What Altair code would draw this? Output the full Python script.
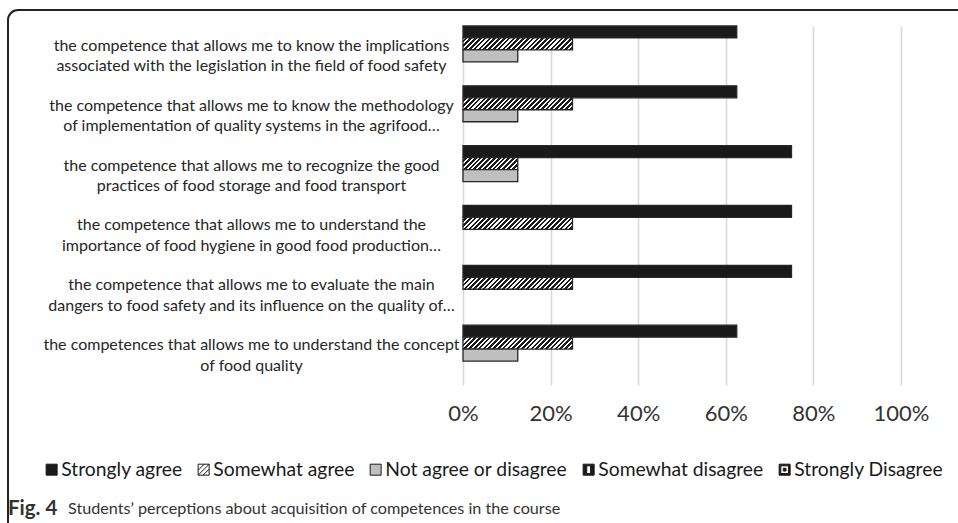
import altair as alt
import pandas as pd

# ---- data -------------------------------------------------------------
categories = [
    "the competence that allows me to know the implications|associated with the legislation in the field of food safety",
    "the competence that allows me to know the methodology|of implementation of quality systems in the agrifood\u2026",
    "the competence that allows me to recognize the good|practices of food storage and food transport",
    "the competence that allows me to understand the|importance of food hygiene in good food production\u2026",
    "the competence that allows me to evaluate the main|dangers to food safety and its influence on the quality of\u2026",
    "the competences that allows me to understand the concept|of food quality",
]
series = [
    "Strongly agree",
    "Somewhat agree",
    "Not agree or disagree",
    "Somewhat disagree",
    "Strongly Disagree",
]
strongly_agree = [62.5, 62.5, 75, 75, 75, 62.5]
somewhat_agree = [25, 25, 12.5, 25, 25, 25]
not_agree = [12.5, 12.5, 12.5, 0, 0, 12.5]
somewhat_disagree = [0, 0, 0, 0, 0, 0]
strongly_disagree = [0, 0, 0, 0, 0, 0]

x_ticks = [0, 20, 40, 60, 80, 100]
caption_bold = "Fig. 4"
caption_text = "Students\u2019 perceptions about acquisition of competences in the course"

# ---- layout / style ----------------------------------------------------
PLOT_W, PLOT_H = 438, 359
FONT = "Lato"
BLACK = "#1a1a1a"
GREY = "#bfbfbf"
EDGE = "#262626"

rows = []
for s, vals in zip(series, [strongly_agree, somewhat_agree, not_agree,
                            somewhat_disagree, strongly_disagree]):
    for c, v in zip(categories, vals):
        rows.append({"category": c, "series": s, "value": v})
df = pd.DataFrame(rows)

bar_h = PLOT_H / len(categories) / len(series)


def hatch(value, period=4.8, ink=0.55):
    """Diagonal '/' stripes as a hard-stop gradient sized to the bar."""
    w = value / 100 * PLOT_W
    r = w / bar_h
    c = (r + 1) / (r * r + 1)
    n = (w + bar_h) / period
    stops = []
    k = 0
    while k < n:
        a, b, e = k / n, (k + 1 - ink) / n, (k + 1) / n
        stops += [
            {"offset": min(a, 1), "color": "#ffffff"},
            {"offset": min(b, 1), "color": "#ffffff"},
            {"offset": min(b, 1), "color": BLACK},
            {"offset": min(e, 1), "color": BLACK},
        ]
        k += 1
    return {"gradient": "linear", "x1": 0, "y1": 0, "x2": c * r, "y2": c,
            "stops": stops}


x_enc = alt.X(
    "value:Q",
    scale=alt.Scale(domain=[0, 100], nice=False),
    axis=alt.Axis(
        values=x_ticks, labelExpr="datum.value + '%'", title=None,
        domain=False, ticks=False, grid=True, gridColor="#d9d9d9",
        gridWidth=1.6, labelFont=FONT, labelFontSize=22, labelColor="#333333",
        labelPadding=18, labelFlush=False, labelOverlap=False,
    ),
)
y_enc = alt.Y(
    "category:N",
    sort=categories,
    scale=alt.Scale(domain=categories, paddingInner=0, paddingOuter=0),
    axis=alt.Axis(
        title=None, domain=False, ticks=False, grid=False,
        labelExpr="split(datum.label, '|')", labelAlign="center",
        labelBaseline="middle", labelPadding=212, labelLimit=0,
        labelOffset=-10,
        labelFont=FONT, labelFontSize=16, labelLineHeight=20.5,
        labelColor="#262626",
    ),
)
yoff = alt.YOffset(
    "series:N",
    scale=alt.Scale(domain=series, paddingInner=0, paddingOuter=0),
)

base = alt.Chart(df).encode(x=x_enc, y=y_enc, yOffset=yoff)


def bars(test, fill):
    return base.transform_filter(test).mark_bar(
        fill=fill, stroke=EDGE, strokeWidth=1.3, opacity=1
    )


layers = [
    bars("datum.series == 'Strongly agree' && datum.value > 0", BLACK),
    bars("datum.series == 'Somewhat agree' && datum.value == 25", hatch(25)),
    bars("datum.series == 'Somewhat agree' && datum.value == 12.5", hatch(12.5)),
    bars("datum.series == 'Not agree or disagree' && datum.value > 0", GREY),
]

# legend swatches (custom symbol paths in the unit square)
sq = "M-1,-1H1V1H-1Z"
legend_shapes = [
    sq,
    sq + "M-1,0.1L0.1,-1M-1,1L1,-1M-0.1,1L1,-0.1",
    sq,
    sq + "M-0.35,-0.7V0.7H0.35V-0.7Z",
    sq + "M-0.7,-0.7V0.7H0.7V-0.7ZM-0.25,-0.25H0.25V0.25H-0.25Z",
]
legend_fills = [BLACK, "#ffffff", GREY, BLACK, BLACK]

legend_layer = alt.Chart(df).transform_filter("false").mark_point(
    filled=True, opacity=1
).encode(
    fill=alt.Fill(
        "series:N",
        scale=alt.Scale(domain=series, range=legend_fills),
        legend=alt.Legend(
            title=None, orient="none", direction="horizontal",
            legendX=-421, legendY=434, symbolSize=121, symbolStrokeWidth=1,
            labelFont=FONT, labelFontSize=19.3, labelColor="#1a1a1a",
            labelOffset=0, columnPadding=11, symbolOpacity=1, labelLimit=0,
        ),
    ),
    shape=alt.Shape("series:N", scale=alt.Scale(domain=series, range=legend_shapes)),
    stroke=alt.Stroke("series:N", scale=alt.Scale(domain=series, range=[BLACK] * 5)),
)

one = pd.DataFrame({"k": [0]})

frame = alt.Chart(one).mark_rect(
    fill="transparent", stroke="#222222", strokeWidth=2, cornerRadius=10
).encode(
    x=alt.value(-455), x2=alt.value(700), y=alt.value(-16), y2=alt.value(700)
)

cap1 = alt.Chart(one).mark_text(
    text=caption_bold, font=FONT, fontSize=20.5, fontWeight="bold",
    color="#333333", align="left", baseline="middle"
).encode(x=alt.value(-455), y=alt.value(483))

cap2 = alt.Chart(one).mark_text(
    text=caption_text, font=FONT, fontSize=16.2, color="#333333",
    align="left", baseline="middle"
).encode(x=alt.value(-395), y=alt.value(483))

chart = alt.layer(*layers, legend_layer, frame, cap1, cap2).properties(
    width=PLOT_W,
    height=PLOT_H,
    autosize="none",
    padding={"left": 463, "top": 26, "right": 57, "bottom": 138},
    background="white",
).configure_view(strokeWidth=0)

chart.save("out.html", embed_options={"renderer": "svg", "actions": False})
